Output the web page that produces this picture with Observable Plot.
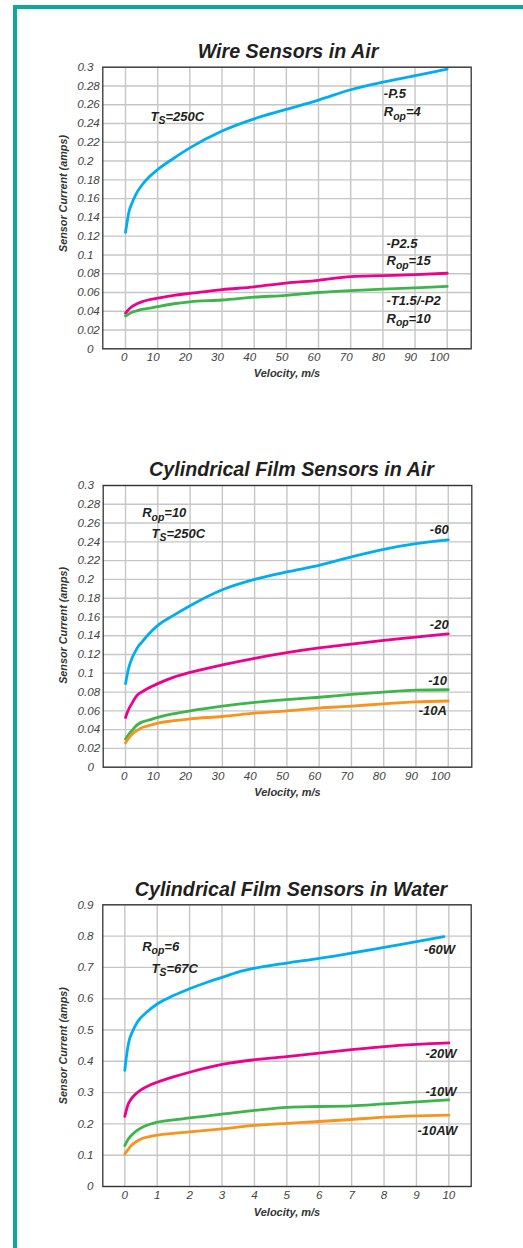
<!DOCTYPE html>
<html><head><meta charset="utf-8">
<script src="https://cdn.jsdelivr.net/npm/d3@7"></script>
<script src="https://cdn.jsdelivr.net/npm/@observablehq/plot@0.6"></script>
<style>
html,body{margin:0;padding:0;background:#fff;}
#page{position:relative;width:523px;height:1248px;overflow:hidden;background:#fff;}
#border{position:absolute;left:13px;top:5px;width:700px;height:1400px;border:4px solid #0ea99b;box-sizing:border-box;}
.chart{position:absolute;left:0;}
</style></head><body><div id="page"><div id="border"></div></div>
<script>
// ---------- DATA ----------
const wireX   = [0, 0.5, 1, 2, 3, 5, 7, 10, 15, 20, 30, 40, 50, 60, 70, 80, 90, 100];
const wireP5  = [0.124, 0.135, 0.145, 0.155, 0.163, 0.174, 0.182, 0.191, 0.203, 0.214, 0.232, 0.245, 0.255, 0.265, 0.276, 0.284, 0.291, 0.298];
const wireP25 = [0.038, 0.040, 0.042, 0.045, 0.047, 0.050, 0.052, 0.054, 0.057, 0.059, 0.063, 0.066, 0.070, 0.073, 0.077, 0.078, 0.079, 0.0805];
const wireT15 = [0.035, 0.036, 0.037, 0.039, 0.040, 0.042, 0.043, 0.045, 0.048, 0.050, 0.052, 0.055, 0.057, 0.060, 0.062, 0.0635, 0.065, 0.0665];

const filmX   = [0, 1, 2, 3, 4, 5, 7, 10, 15, 20, 30, 40, 50, 60, 70, 80, 90, 100];
const film60  = [0.089, 0.106, 0.116, 0.123, 0.129, 0.133, 0.141, 0.151, 0.162, 0.172, 0.189, 0.200, 0.208, 0.215, 0.224, 0.232, 0.238, 0.242];
const film20  = [0.053, 0.062, 0.068, 0.074, 0.078, 0.080, 0.084, 0.089, 0.096, 0.101, 0.109, 0.116, 0.122, 0.127, 0.131, 0.135, 0.1385, 0.142];
const film10  = [0.030, 0.035, 0.039, 0.043, 0.046, 0.048, 0.050, 0.053, 0.057, 0.060, 0.065, 0.069, 0.072, 0.0745, 0.0775, 0.080, 0.082, 0.0825];
const film10A = [0.026, 0.031, 0.035, 0.038, 0.040, 0.042, 0.044, 0.047, 0.0495, 0.0515, 0.054, 0.0575, 0.060, 0.063, 0.065, 0.0675, 0.0695, 0.0705];

const water60X  = [0, 0.05, 0.12, 0.25, 0.4, 0.7, 1, 1.5, 2, 2.5, 3, 3.5, 4, 5, 6, 7, 8, 9, 9.85];
const water60W  = [0.371, 0.415, 0.46, 0.498, 0.527, 0.559, 0.583, 0.61, 0.632, 0.651, 0.668, 0.685, 0.697, 0.714, 0.729, 0.746, 0.764, 0.782, 0.798];
const waterX    = [0, 0.1, 0.2, 0.35, 0.5, 0.75, 1, 1.5, 2, 3, 4, 5, 6, 7, 8, 9, 10];
const water20W  = [0.224, 0.262, 0.280, 0.297, 0.309, 0.323, 0.333, 0.350, 0.365, 0.390, 0.405, 0.415, 0.426, 0.437, 0.447, 0.454, 0.459];
const water10W  = [0.131, 0.150, 0.163, 0.177, 0.187, 0.198, 0.2055, 0.213, 0.219, 0.231, 0.243, 0.253, 0.2556, 0.2577, 0.264, 0.2705, 0.277];
const water10AW = [0.104, 0.118, 0.131, 0.143, 0.152, 0.159, 0.164, 0.170, 0.1747, 0.184, 0.195, 0.202, 0.2076, 0.214, 0.2215, 0.2257, 0.228];

const airXTicks   = [0, 10, 20, 30, 40, 50, 60, 70, 80, 90, 100];
const waterXTicks = [0, 1, 2, 3, 4, 5, 6, 7, 8, 9, 10];
const airYTicks   = [0, 0.02, 0.04, 0.06, 0.08, 0.1, 0.12, 0.14, 0.16, 0.18, 0.2, 0.22, 0.24, 0.26, 0.28, 0.3];
const waterYTicks = [0, 0.1, 0.2, 0.3, 0.4, 0.5, 0.6, 0.7, 0.8, 0.9];

const titles = ["Wire Sensors in Air", "Cylindrical Film Sensors in Air", "Cylindrical Film Sensors in Water"];
const xLabel = "Velocity, m/s";
const yLabel = "Sensor Current (amps)";
const seriesColors = ["#00aeef", "#ec008c", "#3db54a", "#f7941d"];

const wireNames  = ["-P.5", "-P2.5", "-T1.5/-P2"];
const wireLabels = [["-P.5", "R{op}=4"], ["-P2.5", "R{op}=15"], ["-T1.5/-P2", "R{op}=10"]];
const filmNames  = ["-60", "-20", "-10", "-10A"];
const waterNames = ["-60W", "-20W", "-10W", "-10AW"];
const wireNotes  = ["T{S}=250C"];
const filmNotes  = ["R{op}=10", "T{S}=250C"];
const waterNotes = ["R{op}=6", "T{S}=67C"];

// ---------- LAYOUT ----------
const FONT = "'Liberation Sans', Arial, Helvetica, sans-serif";
const INK = "#231f20";

function decimals(d) { return (String(d).split(".")[1] || "").length; }

function makeChart(cfg) {
  const rows = cfg.series.flatMap(s => s.x.map((x, i) => ({x, y: s.y[i], name: s.name})));
  const names = cfg.series.map(s => s.name);
  const fmt = d => String(d);
  const two = cfg.yTicks.filter(d => decimals(d) === 2);
  const one = cfg.yTicks.filter(d => decimals(d) !== 2);
  const tickStyle = {tickSize: 0, fontStyle: "italic", fontSize: 11.6, fill: "#444", label: null, tickFormat: fmt};
  const labelMarks = [];
  cfg.series.forEach((s, i) => {
    (cfg.labelTexts[i] || []).forEach((t, j) => {
      const o = cfg.labelPos[i][j];
      labelMarks.push(Plot.text(rows.filter(d => d.name === s.name), Plot.selectLast({
        x: "x", y: "y", text: () => t, dx: o.dx, dy: o.dy, textAnchor: o.anchor, lineAnchor: "middle",
        fontSize: 13, fontWeight: "bold", fontStyle: "italic", fill: INK
      })));
    });
  });
  const noteMarks = cfg.notes.map((t, j) => Plot.text([t], {
    frameAnchor: "top-left", dx: cfg.notePos[j].dx, dy: cfg.notePos[j].dy, textAnchor: "start", lineAnchor: "middle",
    fontSize: 13, fontWeight: "bold", fontStyle: "italic", fill: INK
  }));
  const svg = Plot.plot({
    width: 523, height: cfg.height,
    marginTop: cfg.mt, marginBottom: cfg.mb, marginLeft: cfg.ml, marginRight: cfg.mr,
    style: {fontFamily: FONT, background: "transparent", overflow: "visible"},
    x: {domain: cfg.xDomain, label: null},
    y: {domain: cfg.yDomain, label: null},
    color: {domain: names, range: seriesColors},
    marks: [
      Plot.gridX(cfg.xTicks, {stroke: "#c6c6c6", strokeOpacity: 1, strokeWidth: 1.4}),
      Plot.gridY(cfg.yTicks, {stroke: "#c6c6c6", strokeOpacity: 1, strokeWidth: 1.4}),
      Plot.line(rows, {x: "x", y: "y", z: "name", stroke: "name", strokeWidth: 2.8, curve: "monotone-x"}),
      Plot.frame({stroke: "#333", strokeWidth: 1.3}),
      Plot.axisX(cfg.xTicks, {...tickStyle, tickPadding: 4.2, textAnchor: cfg.xAnchor, dx: cfg.xDx}),
      two.length ? Plot.axisY(two, {...tickStyle, tickPadding: 3}) : null,
      Plot.axisY(one, {...tickStyle, tickPadding: 9.3}),
      Plot.text([cfg.title], {frameAnchor: "top", textAnchor: "middle", lineAnchor: "bottom", dx: cfg.titleDx, dy: cfg.titleDy,
        fontSize: 19.7, fontWeight: "bold", fontStyle: "italic", fill: INK}),
      Plot.text([yLabel], {frameAnchor: "left", textAnchor: "middle", lineAnchor: "middle", rotate: -90, dx: -39.5, dy: cfg.ylabDy,
        fontSize: 10.8, fontWeight: "bold", fontStyle: "italic", fill: "#333"}),
      Plot.text([xLabel], {frameAnchor: "bottom", textAnchor: "middle", lineAnchor: "middle", dy: cfg.xlabDy,
        fontSize: 11, fontWeight: "bold", fontStyle: "italic", fill: "#333"}),
      ...labelMarks,
      ...noteMarks
    ]
  });
  // subscripts: "R{op}" -> R with subscript op
  svg.querySelectorAll("text").forEach(t => {
    const m = t.textContent.match(/^(.*?)\{(.+?)\}(.*)$/);
    if (!m || t.children.length) return;
    const NS = "http://www.w3.org/2000/svg";
    t.textContent = "";
    t.appendChild(document.createTextNode(m[1]));
    const sub = document.createElementNS(NS, "tspan");
    sub.setAttribute("font-size", "80%"); sub.setAttribute("dy", "3.5"); sub.textContent = m[2];
    t.appendChild(sub);
    const rest = document.createElementNS(NS, "tspan");
    rest.setAttribute("dy", "-3.5"); rest.textContent = m[3];
    t.appendChild(rest);
  });
  const div = document.createElement("div");
  div.className = "chart";
  div.style.top = cfg.top + "px";
  div.appendChild(svg);
  document.getElementById("page").appendChild(div);
}

makeChart({
  top: 30, height: 365, mt: 36.7, mb: 46.7, ml: 102.3, mr: 52.3,
  xDomain: [-7.06, 107.46], yDomain: [0, 0.3], xTicks: airXTicks, yTicks: airYTicks,
  xAnchor: "end", xDx: 2,
  title: titles[0], titleDx: 1, titleDy: -9.4, ylabDy: -14.5, xlabDy: 24.7,
  series: [
    {name: wireNames[0], x: wireX, y: wireP5},
    {name: wireNames[1], x: wireX, y: wireP25},
    {name: wireNames[2], x: wireX, y: wireT15}
  ],
  labelTexts: wireLabels,
  labelPos: [
    [{dx: -63.4, dy: 24.8, anchor: "start"}, {dx: -63.4, dy: 43.2, anchor: "start"}],
    [{dx: -60.7, dy: -29.4, anchor: "start"}, {dx: -60.7, dy: -12, anchor: "start"}],
    [{dx: -60.7, dy: 14.8, anchor: "start"}, {dx: -60.7, dy: 32.4, anchor: "start"}]
  ],
  notes: wireNotes, notePos: [{dx: 47.7, dy: 49.3}]
});

makeChart({
  top: 440, height: 370, mt: 45, mb: 43.3, ml: 102.7, mr: 51.7,
  xDomain: [-6.92, 107.3], yDomain: [0, 0.3], xTicks: airXTicks, yTicks: airYTicks,
  xAnchor: "end", xDx: 2,
  title: titles[1], titleDx: 4, titleDy: -9.3, ylabDy: -1, xlabDy: 25.6,
  series: [
    {name: filmNames[0], x: filmX, y: film60},
    {name: filmNames[1], x: filmX, y: film20},
    {name: filmNames[2], x: filmX, y: film10},
    {name: filmNames[3], x: filmX, y: film10A}
  ],
  labelTexts: filmNames.map(n => [n]),
  labelPos: [
    [{dx: 0.4, dy: -10.2, anchor: "end"}],
    [{dx: 0.4, dy: -9, anchor: "end"}],
    [{dx: -1.3, dy: -8.5, anchor: "end"}],
    [{dx: -1.3, dy: 10.2, anchor: "end"}]
  ],
  notes: filmNotes, notePos: [{dx: 39, dy: 27.7}, {dx: 48.3, dy: 48.3}]
});

makeChart({
  top: 860, height: 370, mt: 44.3, mb: 44, ml: 102.3, mr: 52.3,
  xDomain: [-0.679, 10.69], yDomain: [0, 0.9], xTicks: waterXTicks, yTicks: waterYTicks,
  xAnchor: "middle", xDx: 0,
  title: titles[2], titleDx: 4, titleDy: -8.6, ylabDy: 0, xlabDy: 25.7,
  series: [
    {name: waterNames[0], x: water60X, y: water60W},
    {name: waterNames[1], x: waterX, y: water20W},
    {name: waterNames[2], x: waterX, y: water10W},
    {name: waterNames[3], x: waterX, y: water10AW}
  ],
  labelTexts: waterNames.map(n => [n]),
  labelPos: [
    [{dx: 11, dy: 13, anchor: "end"}],
    [{dx: 7.7, dy: 11, anchor: "end"}],
    [{dx: 7.7, dy: -7.6, anchor: "end"}],
    [{dx: 8.4, dy: 15.4, anchor: "end"}]
  ],
  notes: waterNotes, notePos: [{dx: 39.4, dy: 41.7}, {dx: 48.7, dy: 64}]
});
</script></body></html>
